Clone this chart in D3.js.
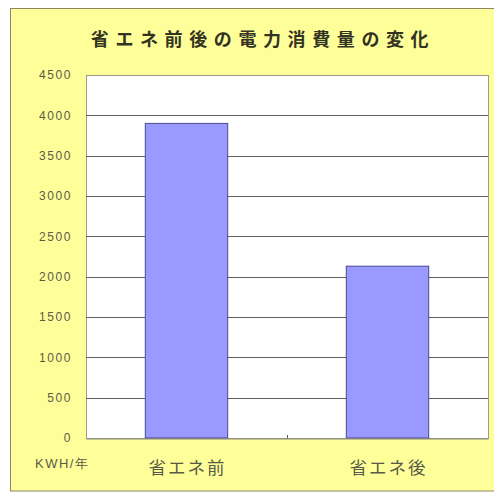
<!DOCTYPE html>
<html><head><meta charset="utf-8">
<script src="https://cdn.jsdelivr.net/npm/d3@7"></script>
<style>
html,body{margin:0;padding:0;background:#fff;}
svg{display:block;}
</style></head>
<body>
<script>
const title = "省エネ前後の電力消費量の変化";
const categories = ["省エネ前", "省エネ後"];
const values = [3900, 2130];
const yTicks = [0, 500, 1000, 1500, 2000, 2500, 3000, 3500, 4000, 4500];
const unitLabel = "KWH/年";

const W = 494, H = 493;
const svg = d3.select("body").append("svg").attr("width", W).attr("height", H);

// chart area background
svg.append("rect").attr("x", 10.5).attr("y", 8.5).attr("width", 500).attr("height", 482.5)
  .attr("fill", "#FFFF99").attr("stroke", "#888866").attr("stroke-width", 1);

const plot = {left: 86, top: 75, right: 488, bottom: 438};

const x = d3.scaleBand().domain(categories).range([plot.left, plot.right]).paddingInner(0.59).paddingOuter(0.295);
const xCat = d3.scaleBand().domain(categories).range([plot.left, plot.right]);
const y = d3.scaleLinear().domain([0, 4500]).range([plot.bottom, plot.top]);

// plot area
svg.append("rect").attr("x", plot.left + 0.5).attr("y", plot.top + 0.5)
  .attr("width", plot.right - plot.left).attr("height", plot.bottom - plot.top)
  .attr("fill", "#fff").attr("stroke", "#9a9a8a").attr("stroke-width", 1);

// gridlines
svg.append("g").selectAll("line").data(yTicks.filter(d => d > 0 && d < 4500)).join("line")
  .attr("x1", plot.left).attr("x2", plot.right)
  .attr("y1", d => Math.round(y(d)) + 0.5).attr("y2", d => Math.round(y(d)) + 0.5)
  .attr("stroke", "#606060").attr("stroke-width", 1.2);

// bars
svg.append("g").selectAll("rect").data(values).join("rect")
  .attr("x", (d, i) => x(categories[i]))
  .attr("y", d => y(d))
  .attr("width", x.bandwidth())
  .attr("height", d => y(0) - y(d))
  .attr("fill", "#9999FF").attr("stroke", "#4a4a90").attr("stroke-width", 1);

// x axis
const xAxis = svg.append("g").attr("transform", `translate(0,${plot.bottom + 0.5})`)
  .call(d3.axisBottom(xCat).tickSize(0).tickFormat(""));
xAxis.select(".domain").attr("stroke", "#888877");
// category boundary tick
svg.append("g").selectAll("line").data(categories.slice(1)).join("line")
  .attr("x1", d => Math.round(xCat(d)) + 0.5).attr("x2", d => Math.round(xCat(d)) + 0.5)
  .attr("y1", plot.bottom - 3).attr("y2", plot.bottom)
  .attr("stroke", "#555").attr("stroke-width", 1);

// category labels
svg.append("g").selectAll("text").data(categories).join("text")
  .attr("x", d => xCat(d) + xCat.bandwidth() / 2 + 1)
  .attr("y", 474)
  .attr("text-anchor", "middle")
  .attr("font-family", "Noto Sans CJK JP")
  .attr("font-size", 17.5)
  .attr("letter-spacing", 2)
  .attr("fill", "#5a5a4a")
  .text(d => d);

// y axis
const yAxis = svg.append("g").attr("transform", `translate(${plot.left},0)`)
  .call(d3.axisLeft(y).tickValues(yTicks).tickSize(0).tickPadding(0).tickFormat(d3.format("d")));
yAxis.select(".domain").remove();
yAxis.selectAll("text")
  .attr("x", -14)
  .attr("font-family", "Liberation Sans")
  .attr("font-size", 12)
  .attr("letter-spacing", 1.6)
  .attr("fill", "#5a5a4a");

// unit label
svg.append("text").attr("x", 35).attr("y", 468)
  .attr("font-family", "Liberation Sans")
  .attr("font-size", 13)
  .attr("letter-spacing", 1.5)
  .attr("fill", "#5a5a4a")
  .text(unitLabel);

// title
svg.append("text").attr("x", 263).attr("y", 46)
  .attr("text-anchor", "middle")
  .attr("font-family", "Noto Sans CJK JP")
  .attr("font-weight", "bold")
  .attr("font-size", 18)
  .attr("letter-spacing", 6.6)
  .attr("fill", "#333322")
  .text(title);
</script>
</body></html>
